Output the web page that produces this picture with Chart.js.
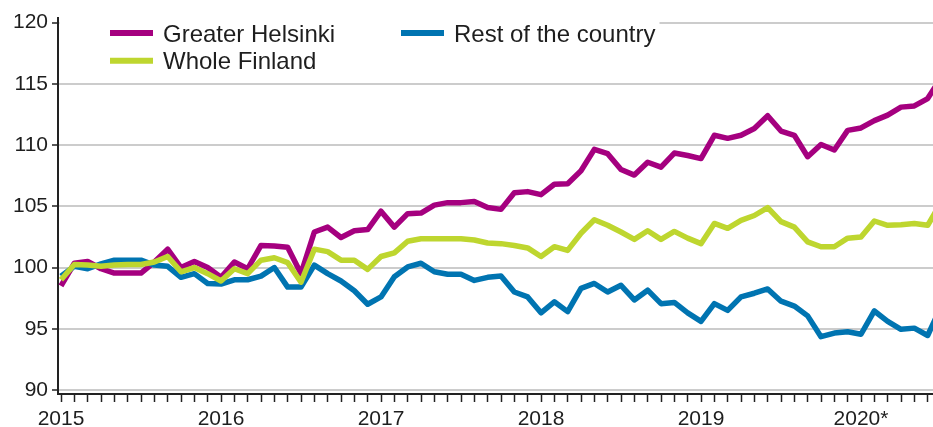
<!DOCTYPE html>
<html>
<head>
<meta charset="utf-8">
<script src="https://cdn.jsdelivr.net/npm/chart.js@4.4.1/dist/chart.umd.min.js"></script>
<style>
  html, body { margin: 0; padding: 0; background: #fff; }
  canvas { display: block; }
</style>
</head>
<body>
<canvas id="price-chart" width="933" height="427"></canvas>
<script>
// monthly index, Jan 2015 ... Jul 2020 (2015 = 100)
const years = ["2015", "2016", "2017", "2018", "2019", "2020*"];
const yTicks = [90, 95, 100, 105, 110, 115, 120];

const greaterHelsinki = [
    98.5, 100.35, 100.5, 99.9, 99.55, 99.55, 99.55, 100.45, 101.5, 100.0, 100.5, 100.0,
    99.2, 100.45, 99.9, 101.8, 101.75, 101.65, 99.5, 102.9, 103.3, 102.45, 103.0, 103.1,
    104.6, 103.3, 104.4, 104.45, 105.1, 105.3, 105.3, 105.4, 104.9, 104.75, 106.1, 106.2,
    105.95, 106.8, 106.85, 107.9, 109.65, 109.3, 108.0, 107.55, 108.6, 108.2, 109.35, 109.15,
    108.9, 110.8, 110.55, 110.8, 111.35, 112.4, 111.15, 110.8, 109.05, 110.05, 109.6, 111.2,
    111.4, 112.0, 112.45, 113.1, 113.2, 113.8, 115.5
];
const wholeFinland = [
    99.0, 100.25, 100.2, 100.1, 100.2, 100.25, 100.25, 100.45, 100.9, 99.65, 100.0, 99.5,
    98.9, 99.9, 99.5, 100.6, 100.8, 100.4, 98.8, 101.5, 101.3, 100.6, 100.6, 99.85,
    100.9, 101.2, 102.15, 102.35, 102.35, 102.35, 102.35, 102.25, 102.0, 101.95, 101.8, 101.6,
    100.9, 101.7, 101.4, 102.8, 103.9, 103.45, 102.9, 102.3, 103.0, 102.3, 102.95, 102.4,
    101.95, 103.6, 103.2, 103.85, 104.25, 104.9, 103.75, 103.3, 102.1, 101.7, 101.7, 102.4,
    102.5, 103.8, 103.45, 103.5, 103.6, 103.45, 105.3
];
const restOfCountry = [
    99.3, 100.1, 99.9, 100.3, 100.6, 100.6, 100.6, 100.2, 100.1, 99.2, 99.5, 98.7,
    98.65, 99.0, 99.0, 99.3, 100.0, 98.4, 98.4, 100.2, 99.5, 98.9, 98.1, 97.0,
    97.6, 99.25, 100.05, 100.35, 99.65, 99.45, 99.45, 98.95, 99.2, 99.3, 98.0, 97.6,
    96.3, 97.2, 96.4, 98.3, 98.7, 98.0, 98.55, 97.35, 98.15, 97.05, 97.15, 96.3,
    95.6, 97.05, 96.5, 97.6, 97.9, 98.25, 97.25, 96.85, 96.05, 94.35, 94.65, 94.75,
    94.55, 96.45, 95.6, 94.95, 95.05, 94.45, 96.8
];

const toPoints = (arr) => arr.map((v, i) => ({ x: i, y: v }));
const textColor = "#1e1e1e";
const axisFont = { family: "'Liberation Sans', Arial, sans-serif", size: 21 };

// legend drawn in two columns like the original
const boxLegend = {
    id: "boxLegend",
    afterDraw(chart) {
        const ctx = chart.ctx;
        const ds = chart.data.datasets;
        const items = [
            { d: ds[2], x: 110, y: 33 },
            { d: ds[1], x: 401, y: 33 },
            { d: ds[0], x: 110, y: 60.7 },
        ];
        ctx.save();
        ctx.fillStyle = "#fff";
        ctx.fillRect(59.5, 18, 600, 56);
        ctx.font = "24px 'Liberation Sans', Arial, sans-serif";
        ctx.textBaseline = "middle";
        items.forEach((it) => {
            ctx.strokeStyle = it.d.borderColor;
            ctx.lineWidth = 6;
            ctx.beginPath();
            ctx.moveTo(it.x, it.y);
            ctx.lineTo(it.x + 43, it.y);
            ctx.stroke();
            ctx.fillStyle = textColor;
            ctx.fillText(it.d.label, it.x + 53, it.y + 2);
        });
        ctx.restore();
    },
};

const lineData = {
    datasets: [
        {
            label: "Whole Finland",
            data: toPoints(wholeFinland),
            borderColor: "#bed62f",
            order: 0,
        },
        {
            label: "Rest of the country",
            data: toPoints(restOfCountry),
            borderColor: "#0074b1",
            order: 1,
        },
        {
            label: "Greater Helsinki",
            data: toPoints(greaterHelsinki),
            borderColor: "#a5007f",
            order: 2,
        },
    ],
};

const lineConfig = {
    type: "line",
    data: lineData,
    options: {
        responsive: false,
        animation: false,
        layout: { padding: { top: 18, right: 0, bottom: 0, left: 0 } },
        elements: {
            point: { radius: 0 },
            line: { borderWidth: 5.5, tension: 0, borderJoinStyle: "round", fill: false },
        },
        plugins: {
            legend: { display: false },
            tooltip: { enabled: false },
        },
        scales: {
            x: {
                type: "linear",
                min: -0.225,
                max: 65.4,
                afterFit: (s) => { s.height = 33; },
                afterBuildTicks: (s) => {
                    s.ticks = greaterHelsinki.slice(0, 66).map((v, i) => ({ value: i }));
                },
                ticks: {
                    autoSkip: false,
                    maxRotation: 0,
                    padding: 5,
                    color: textColor,
                    font: axisFont,
                    callback: (v) => (v % 12 === 0 ? years[v / 12] : ""),
                },
                grid: {
                    drawOnChartArea: false,
                    drawTicks: true,
                    tickLength: 8,
                    tickColor: "#222",
                    tickWidth: 1.5,
                },
                border: { color: "#222", width: 2 },
            },
            y: {
                min: 89.67,
                max: 120.38,
                afterFit: (s) => { s.width = 58; },
                afterBuildTicks: (s) => {
                    s.ticks = yTicks.map((v) => ({ value: v }));
                },
                ticks: {
                    padding: 4,
                    color: textColor,
                    font: axisFont,
                },
                grid: {
                    color: "#cccccc",
                    lineWidth: 2,
                    tickLength: 6,
                    tickColor: "#222",
                    tickWidth: 1.5,
                },
                border: { color: "#222", width: 2 },
            },
        },
    },
    plugins: [boxLegend],
};

const lineElem = document.getElementById("price-chart").getContext("2d");
const priceChart = new Chart(lineElem, lineConfig);
</script>
</body>
</html>
